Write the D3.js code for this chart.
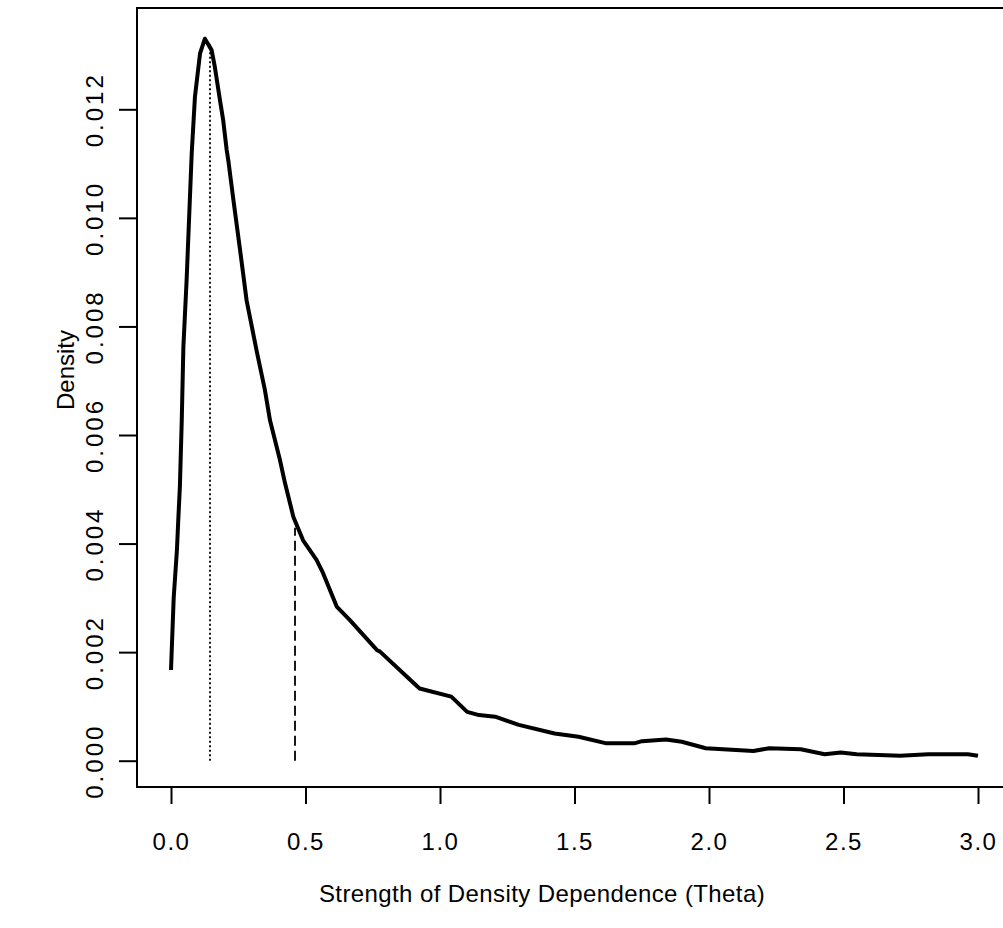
<!DOCTYPE html>
<html>
<head>
  <meta charset="utf-8">
  <script src="https://d3js.org/d3.v7.min.js"></script>
  <style>
    body { margin: 0; background: #fff; font-family: 'Liberation Sans', Arial, sans-serif; }
  </style>
</head>
<body>
  <div id="chart"></div>
  <script>
    // posterior density of theta
    var theta = [0.000, 0.010, 0.022, 0.027, 0.033, 0.040, 0.046, 0.058, 0.077, 0.089, 0.108, 0.126,
                 0.151, 0.163, 0.182, 0.194, 0.207, 0.213, 0.232, 0.257, 0.281, 0.318, 0.349, 0.368,
                 0.405, 0.424, 0.455, 0.491, 0.541, 0.565, 0.616, 0.665, 0.765, 0.777, 0.889, 0.924,
                 1.042, 1.101, 1.145, 1.205, 1.293, 1.426, 1.515, 1.619, 1.722, 1.751, 1.840, 1.899,
                 1.988, 2.165, 2.224, 2.341, 2.430, 2.490, 2.549, 2.711, 2.815, 2.962, 3.000];
    var density = [0.00167, 0.00300, 0.00388, 0.00443, 0.00505, 0.00627, 0.00762, 0.00885, 0.01119, 0.01223, 0.01303, 0.01330,
                   0.01309, 0.01278, 0.01217, 0.01180, 0.01125, 0.01106, 0.01033, 0.00940, 0.00848, 0.00756, 0.00683, 0.00627,
                   0.00554, 0.00511, 0.00449, 0.00406, 0.00370, 0.00346, 0.00284, 0.00259, 0.00204, 0.00201, 0.00149, 0.00133,
                   0.00118, 0.00090, 0.00084, 0.00081, 0.00066, 0.00050, 0.00044, 0.00032, 0.00032, 0.00036, 0.00039, 0.00035,
                   0.00023, 0.00018, 0.00023, 0.00021, 0.00012, 0.00015, 0.00012, 0.00009, 0.00012, 0.00012, 0.00009];

    var xTicks = [0, 0.5, 1.0, 1.5, 2.0, 2.5, 3.0];
    var yTicks = [0, 0.002, 0.004, 0.006, 0.008, 0.010, 0.012];

    // mode (dotted) and mean (dashed) markers
    var refTheta = [0.145, 0.461];
    var refTop = [0.0132, 0.00429];

    var width = 1003, height = 928;
    var box = { left: 137, top: 8, right: 1010, bottom: 787 };

    var svg = d3.select("#chart")
      .append("svg")
      .attr("width", width)
      .attr("height", height);

    var x = d3.scaleLinear().domain([0, 3]).range([171, 978]);
    var y = d3.scaleLinear().domain([0, 0.012]).range([760.7, 109.3]);

    // plot box
    svg.append("rect")
      .attr("x", box.left)
      .attr("y", box.top)
      .attr("width", box.right - box.left)
      .attr("height", box.bottom - box.top)
      .attr("fill", "none")
      .attr("stroke", "#000")
      .attr("stroke-width", 2);

    // x axis
    var gx = svg.append("g")
      .attr("transform", "translate(0," + box.bottom + ")")
      .call(d3.axisBottom(x).tickValues(xTicks).tickSize(17).tickFormat(d3.format(".1f")));
    gx.select(".domain").remove();
    gx.selectAll(".tick line").attr("stroke", "#000").attr("stroke-width", 2);
    gx.selectAll(".tick text")
      .attr("y", 63)
      .attr("dy", 0)
      .attr("fill", "#000")
      .style("font-size", "24px")
      .style("letter-spacing", "1.5px")
      .style("font-family", "'Liberation Sans', Arial, sans-serif");

    // y axis
    var gy = svg.append("g")
      .attr("transform", "translate(" + box.left + ",0)")
      .call(d3.axisLeft(y).tickValues(yTicks).tickSize(18).tickFormat(d3.format(".3f")));
    gy.select(".domain").remove();
    gy.selectAll(".tick line").attr("stroke", "#000").attr("stroke-width", 2);
    gy.selectAll(".tick text")
      .attr("x", 0)
      .attr("y", 0)
      .attr("dy", 0)
      .attr("transform", "translate(-34,0) rotate(-90)")
      .attr("text-anchor", "middle")
      .attr("fill", "#000")
      .style("font-size", "24px")
      .style("letter-spacing", "3px")
      .style("font-family", "'Liberation Sans', Arial, sans-serif");

    // reference lines
    var dashes = ["2,2.5", "10,5"];
    svg.selectAll(".ref")
      .data(refTheta)
      .enter()
      .append("line")
      .attr("class", "ref")
      .attr("x1", function (d) { return x(d); })
      .attr("x2", function (d) { return x(d); })
      .attr("y1", y(0))
      .attr("y2", function (d, i) { return y(refTop[i]); })
      .attr("stroke", "#000")
      .attr("stroke-width", 1.8)
      .attr("stroke-dasharray", function (d, i) { return dashes[i]; });

    // density curve
    var line = d3.line()
      .x(function (d) { return x(d[0]); })
      .y(function (d) { return y(d[1]); });

    svg.append("path")
      .datum(d3.zip(theta, density))
      .attr("d", line)
      .attr("fill", "none")
      .attr("stroke", "#000")
      .attr("stroke-width", 4)
      .attr("stroke-linejoin", "round");

    // axis titles
    svg.append("text")
      .attr("x", 542)
      .attr("y", 902)
      .attr("text-anchor", "middle")
      .style("font-size", "24px")
      .style("letter-spacing", "0.4px")
      .text("Strength of Density Dependence (Theta)");

    svg.append("text")
      .attr("transform", "translate(74,370) rotate(-90)")
      .attr("text-anchor", "middle")
      .style("font-size", "24px")
      .text("Density");
  </script>
</body>
</html>
